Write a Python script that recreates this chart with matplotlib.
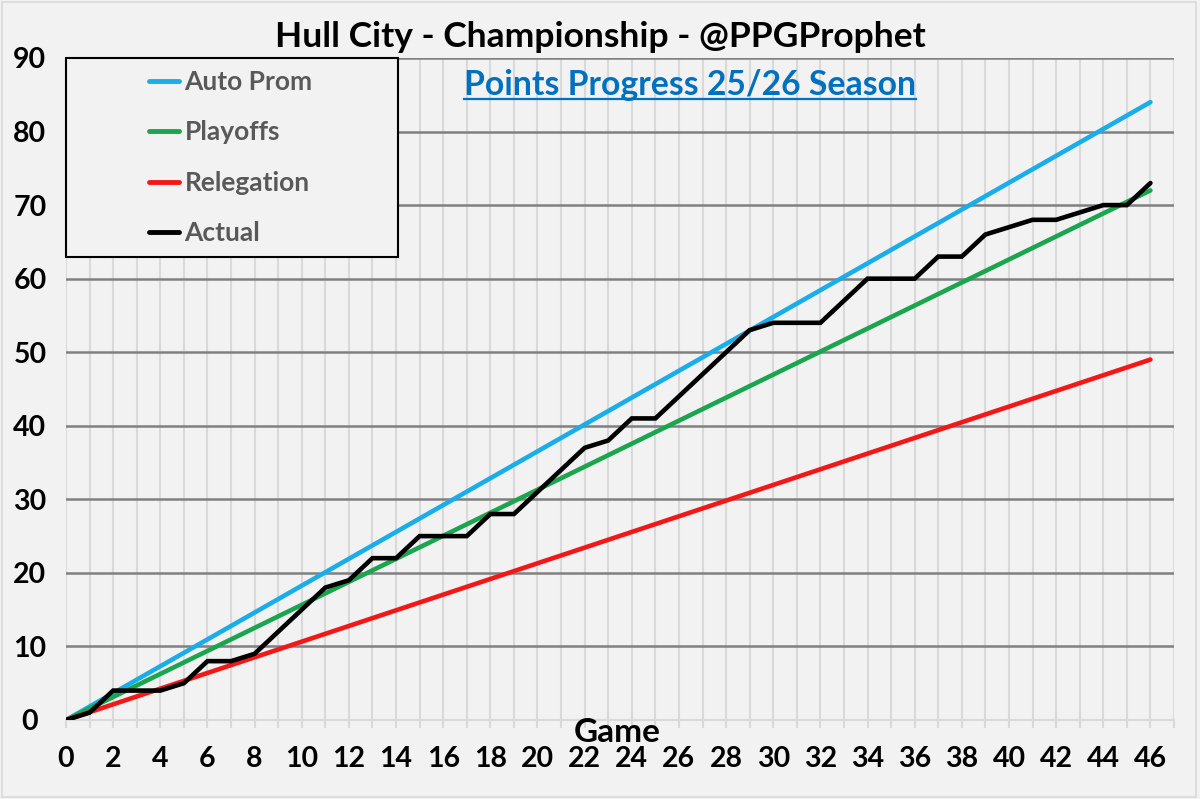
import matplotlib.pyplot as plt
from matplotlib.patches import Rectangle
from matplotlib.lines import Line2D

plt.rcParams['font.family'] = ['Lato', 'DejaVu Sans']
plt.rcParams['font.weight'] = 'bold'

# data
games = list(range(0, 47))
actual = [0, 1, 4, 4, 4, 5, 8, 8, 9, 12, 15, 18, 19, 22, 22, 25, 25, 25, 28, 28,
          31, 34, 37, 38, 41, 41, 44, 47, 50, 53, 54, 54, 54, 57, 60, 60, 60, 63, 63,
          66, 67, 68, 68, 69, 70, 70, 73]
target_games = [0, 46]
auto_prom = [0, 84]
playoffs = [0, 72]
relegation = [0, 49]

W, H = 1200, 799
bg = '#F2F2F2'

fig = plt.figure(figsize=(12, 7.99), dpi=100, facecolor=bg)
#axes box in pixels: left 66, right 1174, top 58, bottom 720
ax = fig.add_axes([66 / W, (H - 720) / H, (1174 - 66) / W, (720 - 58) / H])
ax.set_facecolor(bg)

ax.set_xlim(0, 47)
ax.set_ylim(0, 90)

ax.set_xticks(range(0, 48))
ax.set_xticklabels([str(g) if g % 2 == 0 and g <= 46 else '' for g in range(0, 48)],
                   fontsize=20.5, fontweight='bold')
ax.set_yticks(range(0, 100, 10))
ax.set_yticklabels([str(v) for v in range(0, 100, 10)], fontsize=20.5,
                   fontweight='bold', ha='center')

ax.tick_params(axis='x', length=6, width=1.5, color='#D9D9D9', pad=13)
ax.tick_params(axis='y', length=0, pad=26)

for s in ['top', 'right', 'left']:
    ax.spines[s].set_visible(False)
ax.spines['bottom'].set_color('#D9D9D9')
ax.spines['bottom'].set_linewidth(1.5)

ax.grid(axis='x', color='#D9D9D9', linewidth=1.5, zorder=0)
for v in range(10, 100, 10):
    ax.axhline(v, color='#808080', linewidth=1.8, zorder=1)
ax.set_axisbelow(True)

ax.plot(target_games, auto_prom, color='#19AEEA', lw=3.3, label='Auto Prom',
        solid_capstyle='round', zorder=3)
ax.plot(target_games, playoffs, color='#1BA54E', lw=3.3, label='Playoffs',
        solid_capstyle='round', zorder=3)
ax.plot(target_games, relegation, color='#F21818', lw=3.3, label='Relegation',
        solid_capstyle='round', zorder=3)
ax.plot(games, actual, color='black', lw=3.3, label='Actual',
        solid_capstyle='round', solid_joinstyle='miter', zorder=4)

# legend box drawn by hand, legend itself without frame
ax.add_patch(Rectangle((66 / W, (H - 257) / H), (398 - 66) / W, (257 - 58) / H,
                       transform=fig.transFigure, facecolor=bg, edgecolor='black',
                       linewidth=1.5, zorder=5, clip_on=False))
leg = ax.legend(loc='upper left', bbox_to_anchor=(149 / W, (H - 70) / H),
                bbox_transform=fig.transFigure, frameon=False, fontsize=19,
                handlelength=1.15, handletextpad=0.2, labelspacing=1.0,
                borderpad=0, borderaxespad=0)
leg.set_zorder(6)
for t in leg.get_texts():
    t.set_color('#595959')
    t.set_fontweight('bold')
for l in leg.get_lines():
    l.set_linewidth(3.5)

fig.text(600 / W, (H - 37) / H, 'Hull City - Championship - @PPGProphet',
         ha='center', va='center', fontsize=25.5, fontweight='bold', color='black')
sub = fig.text(690 / W, (H - 85) / H, 'Points Progress 25/26 Season',
               ha='center', va='center', fontsize=24.3, fontweight='bold',
               color='#0070C0')
fig.text(617 / W, (H - 733) / H, 'Game', ha='center', va='center',
         fontsize=24, fontweight='bold', color='black')

# underline for the subtitle
fig.canvas.draw()
bb = sub.get_window_extent().transformed(fig.transFigure.inverted())
fig.add_artist(Line2D([bb.x0, bb.x1], [bb.y0 + 0.002, bb.y0 + 0.002],
                      transform=fig.transFigure, color='#0070C0', lw=1.6))

# light chart border
fig.add_artist(Rectangle((0.002, 0.003), 0.995, 0.994, transform=fig.transFigure,
                         fill=False, edgecolor='#D9D9D9', linewidth=1.2))

fig.savefig('out.png', dpi=100, facecolor=bg)
